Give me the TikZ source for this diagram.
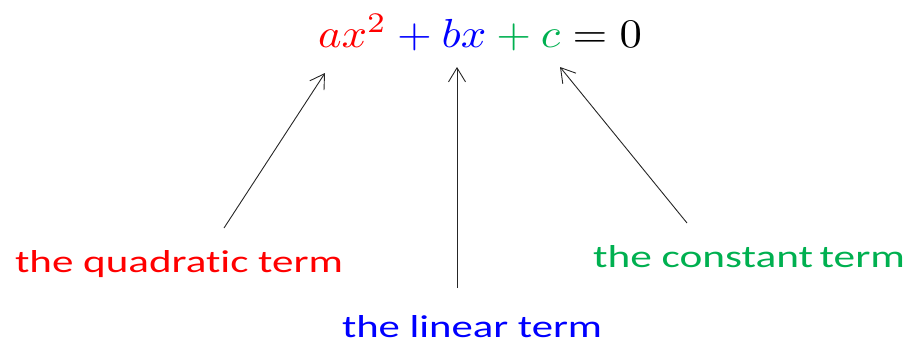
\documentclass[tikz,border=0pt]{standalone}
\usepackage[no-math]{fontspec}
\newfontfamily\lblfont[Ligatures=NoCommon]{Carlito}
\usetikzlibrary{arrows.meta}
\definecolor{ogreen}{RGB}{0,176,80}
\begin{document}
\begin{tikzpicture}[x=1pt,y=-1pt,
  lbl/.style={inner sep=0pt, outer sep=0pt, anchor=base west},
  ptr/.style={draw=black!85, line width=0.9pt, -{Straight Barb[length=14pt,width=17pt,line width=0.9pt]}}]
\useasboundingbox (0,0) rectangle (913,348);
\node[lbl] (eq) at (318,47) {\resizebox{324pt}{33pt}{$\textcolor{red}{ax^2}\mathbin{\textcolor{blue}{+}}\textcolor{blue}{bx}\mathbin{\textcolor{ogreen}{+}}\textcolor{ogreen}{c}=0$}};
\node[lbl] (quad) at (15,272) {\resizebox{328pt}{22pt}{\lblfont\color{red}the quadratic term}};
\node[lbl] (lin) at (342,337) {\resizebox{260pt}{22pt}{\lblfont\color{blue}the linear term}};
\node[lbl] (const) at (593,267) {\resizebox{312pt}{22pt}{\lblfont\color{ogreen}the constant\hspace{0.15em}term}};
\coordinate (q0) at (224,228); \coordinate (q1) at (325,73);
\coordinate (l0) at (457,288); \coordinate (l1) at (457,67);
\coordinate (c0) at (687,223); \coordinate (c1) at (560,67);
\draw[ptr] (q0) -- (q1);
\draw[ptr] (l0) -- (l1);
\draw[ptr] (c0) -- (c1);
\end{tikzpicture}
\end{document}
